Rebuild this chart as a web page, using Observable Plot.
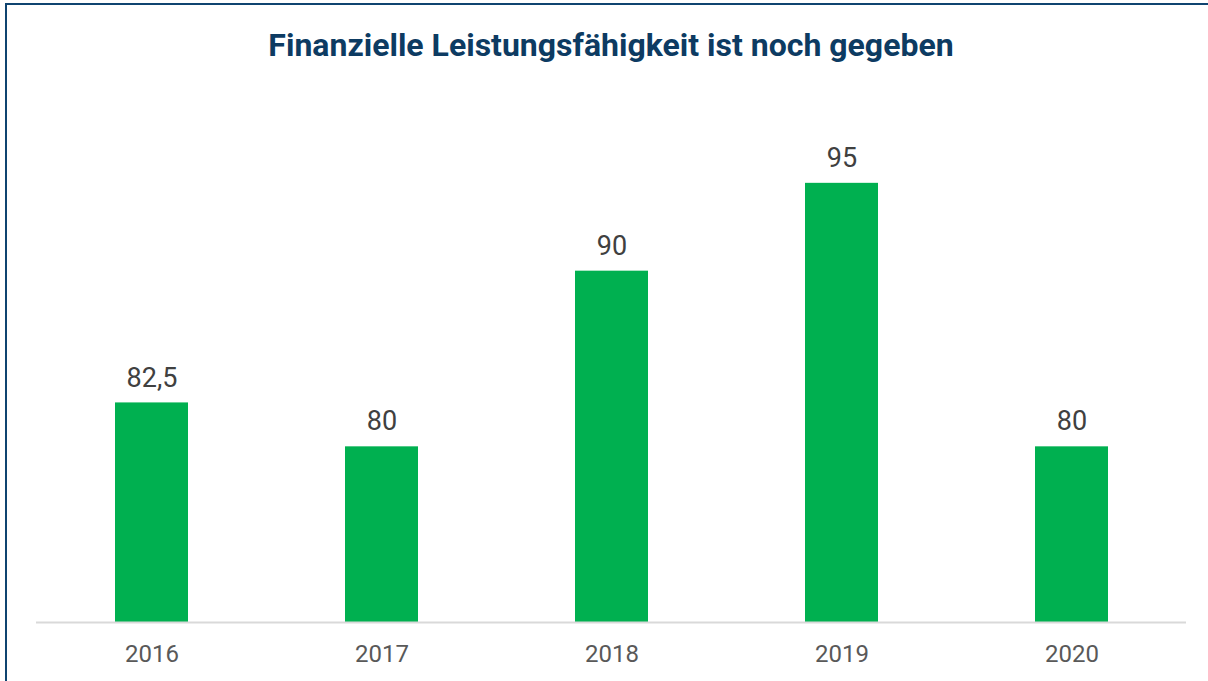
<!DOCTYPE html>
<html>
<head>
<meta charset="utf-8">
<script src="https://cdn.jsdelivr.net/npm/d3@7"></script>
<script src="https://cdn.jsdelivr.net/npm/@observablehq/plot@0.6"></script>
<style>
  html, body { margin: 0; padding: 0; background: #fff; overflow: hidden; width: 1208px; height: 681px; }
  #frame { position: absolute; left: 5px; top: 3px; width: 1400px; height: 900px; border: 2px solid #0f4470; box-sizing: border-box; }
  #title { position: absolute; left: 0; top: 0; width: 1222px; height: 90px; text-align: center; font-family: Roboto, sans-serif; font-weight: bold; font-size: 32px; line-height: 90px; color: #0d3b62; }
  #chart { position: absolute; left: 0; top: 90px; }
</style>
</head>
<body>
<div id="frame"></div>
<div id="title">Finanzielle Leistungsfähigkeit ist noch gegeben</div>
<div id="chart"></div>
<script>
const years = ["2016", "2017", "2018", "2019", "2020"];
const values = [82.5, 80, 90, 95, 80];
const yDomain = [70, 100];

const data = years.map((y, i) => ({year: y, value: values[i]}));
const fmt = v => String(v).replace(".", ",");

const chart = Plot.plot({
  width: 1208,
  height: 591,
  marginLeft: 36,
  marginRight: 22,
  marginTop: 5,
  marginBottom: 59,
  style: {fontFamily: "Roboto, sans-serif", background: "transparent"},
  x: {domain: years, paddingInner: 0.683, paddingOuter: 0.3415, label: null},
  y: {domain: yDomain, axis: null},
  marks: [
    Plot.barY(data, {x: "year", y1: yDomain[0], y2: "value", fill: "#00b050"}),
    Plot.ruleY([yDomain[0]], {stroke: "#d9d9d9", strokeWidth: 2}),
    Plot.text(data, {x: "year", y: "value", text: d => fmt(d.value), dy: -25, fontSize: 27, fill: "#404040"}),
    Plot.axisX({tickSize: 0, tickPadding: 22, fontSize: 24, color: "#595959", label: null})
  ]
});
document.getElementById("chart").appendChild(chart);
</script>
</body>
</html>
